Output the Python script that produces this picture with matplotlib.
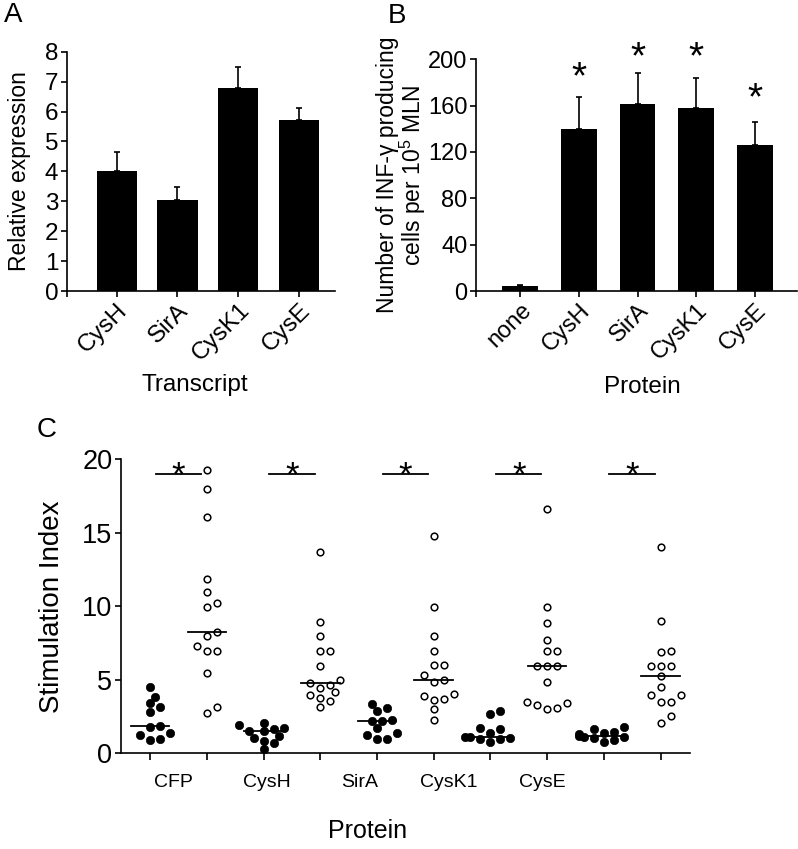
import numpy as np
import matplotlib
matplotlib.use("Agg")
import matplotlib.pyplot as plt
import matplotlib.transforms as mtransforms

plt.rcParams['font.family'] = ['Liberation Sans', 'DejaVu Sans']
plt.rcParams['mathtext.fontset'] = 'custom'
plt.rcParams['mathtext.rm'] = 'Liberation Sans'
plt.rcParams['mathtext.it'] = 'Liberation Sans'

# panel A: relative expression of transcripts
transcripts = ["CysH", "SirA", "CysK1", "CysE"]
expr_mean = [4.02, 3.04, 6.78, 5.70]
expr_err = [0.64, 0.45, 0.72, 0.43]

# panel B: INF-gamma producing cells
proteins_b = ["none", "CysH", "SirA", "CysK1", "CysE"]
ifn_mean = [4, 139.5, 161, 158, 126]
ifn_err = [1.5, 28, 27.5, 25.5, 19.5]
star_b_y = [None, 194, 211, 211, 176]

# panel C: stimulation index, filled = control, open = immunised
proteins_c = ["CFP", "CysH", "SirA", "CysK1", "CysE"]
si_filled = [
    [4.5, 3.85, 3.4, 3.15, 2.8, 1.85, 1.8, 1.35, 1.25, 0.95, 0.9],
    [2.05, 1.9, 1.75, 1.65, 1.55, 1.5, 1.15, 1.05, 0.85, 0.7, 0.3],
    [3.35, 3.05, 2.85, 2.25, 2.2, 2.2, 1.7, 1.4, 1.25, 1.0, 0.95],
    [2.9, 2.7, 1.7, 1.65, 1.4, 1.1, 1.1, 1.05, 1.0, 0.95, 0.8],
    [1.8, 1.65, 1.45, 1.4, 1.3, 1.15, 1.1, 1.1, 1.05, 0.9, 0.8],
]
si_open = [
    [19.27, 17.98, 16.1, 11.86, 10.97, 10.2, 9.97, 8.23, 7.98, 7.3, 6.98, 6.98, 5.44, 3.13, 2.72],
    [13.67, 8.95, 7.98, 6.98, 6.98, 5.96, 4.99, 4.8, 4.67, 4.42, 4.15, 3.99, 3.78, 3.58, 3.13],
    [14.78, 9.97, 7.98, 6.98, 6.0, 6.0, 5.33, 4.99, 4.87, 4.01, 3.9, 3.69, 3.63, 2.99, 2.27],
    [16.6, 9.97, 8.88, 7.71, 6.98, 6.98, 5.96, 5.96, 5.96, 4.87, 3.51, 3.4, 3.29, 3.06, 2.99],
    [14.06, 8.98, 6.98, 6.87, 5.96, 5.96, 5.96, 5.26, 4.49, 3.97, 3.97, 3.47, 3.47, 2.54, 2.08],
]
sig_y = 19.0
c_label_x = [1.41, 3.06, 4.70, 6.27, 7.91]

W, H = 798, 849
fig = plt.figure(figsize=(W / 100, H / 100), dpi=100)


def style(ax, fs):
    for s in ['top', 'right']:
        ax.spines[s].set_visible(False)
    for s in ['left', 'bottom']:
        ax.spines[s].set_linewidth(1.2)
    ax.tick_params(direction='out', length=4, width=1.2, labelsize=fs, pad=2)


def star(ax, x, y, size):
    ax.annotate('*', (x, y), xytext=(0, -0.57 * size), textcoords='offset points',
                ha='center', va='baseline', fontsize=size, annotation_clip=False)


# ---- A ----
ax_a = fig.add_axes([66.7 / W, 1 - 291 / H, (335 - 66.7) / W, (291 - 51.7) / H])
xa = np.arange(1, len(transcripts) + 1)
ax_a.bar(xa, expr_mean, width=0.66, color='black')
ax_a.errorbar(xa, expr_mean, yerr=[np.zeros(len(xa)), expr_err], fmt='none',
              ecolor='black', elinewidth=1.2, capsize=2.5, capthick=1.2)
ax_a.set_xlim(0.18, 4.59)
ax_a.set_ylim(0, 8)
ax_a.set_yticks(range(0, 9))
ax_a.set_xticks([0.18, *xa])
ax_a.set_xticklabels([''] + transcripts, rotation=45, ha='right', rotation_mode='anchor')
style(ax_a, 17.5)
ax_a.set_ylabel('Relative expression', fontsize=16.5, labelpad=10)
fig.text(195 / W, 1 - 385 / H, 'Transcript', fontsize=17.5, ha='center', va='center')
fig.text(13.5 / W, 1 - 15 / H, 'A', fontsize=20, ha='center', va='center')

# ---- B ----
ax_b = fig.add_axes([476 / W, 1 - 291 / H, (796.7 - 476) / W, (291 - 59.3) / H])
xb = np.arange(1, len(proteins_b) + 1)
ax_b.bar(xb, ifn_mean, width=0.61, color='black')
ax_b.errorbar(xb, ifn_mean, yerr=[np.zeros(len(xb)), ifn_err], fmt='none',
              ecolor='black', elinewidth=1.2, capsize=2.5, capthick=1.2)
for x, sy in zip(xb, star_b_y):
    if sy is not None:
        star(ax_b, x, sy, 28)
ax_b.set_xlim(0.25, 5.71)
ax_b.set_ylim(0, 200)
ax_b.set_yticks(range(0, 201, 40))
ax_b.set_xticks([0.25, *xb])
ax_b.set_xticklabels([''] + proteins_b, rotation=45, ha='right', rotation_mode='anchor')
style(ax_b, 17)
ax_b.set_ylabel('Number of INF-γ producing\ncells per 10$^{5}$ MLN', fontsize=16.5,
                labelpad=0, linespacing=0.95)
fig.text(642 / W, 1 - 386.7 / H, 'Protein', fontsize=17.5, ha='center', va='center')
fig.text(397 / W, 1 - 16 / H, 'B', fontsize=20, ha='center', va='center')

# ---- C ----
ax_c = fig.add_axes([120.7 / W, 1 - 753.3 / H, (690 - 120.7) / W, (753.3 - 459.3) / H])
ax_c.set_xlim(0.48, 10.52)
ax_c.set_ylim(0, 20)
px_x = (690 - 120.7) / (10.52 - 0.48)
px_y = (753.3 - 459.3) / 20.0


def swarm(vals, d=9.0, step=5.0):
    vals = np.asarray(vals, dtype=float)
    offs = np.zeros(len(vals))
    placed = []
    for i in np.argsort(vals):
        y = vals[i] * px_y
        for k in [0, 1, -1, 2, -2, 3, -3, 4, -4, 5, -5]:
            xo = k * step
            if all((xo - px) ** 2 + (y - py) ** 2 >= d ** 2 for px, py in placed):
                break
        placed.append((xo, y))
        offs[i] = xo / px_x
    return offs


for g in range(len(proteins_c)):
    xf = 2 * g + 1
    xo = 2 * g + 2
    vf = np.array(si_filled[g])
    vo = np.array(si_open[g])
    ax_c.plot(xf + swarm(vf, d=8.0), vf, 'o', ms=6.0, mfc='black', mec='black', mew=0.5,
              clip_on=False, zorder=3)
    ax_c.plot(xo + swarm(vo), vo, 'o', ms=4.8, mfc='white', mec='black', mew=1.1,
              clip_on=False, zorder=3)
    for x, v in [(xf, vf), (xo, vo)]:
        m = np.median(v)
        ax_c.plot([x - 0.34, x + 0.34], [m, m], color='black', lw=1.3, zorder=4)
    ax_c.plot([xf + 0.1, xf + 0.9], [sig_y, sig_y], color='black', lw=1.3, clip_on=False)
    star(ax_c, xf + 0.5, sig_y + 0.55, 25)

ax_c.set_xticks(range(1, 11))
ax_c.set_xticklabels([])
ax_c.set_yticks(range(0, 21, 5))
style(ax_c, 19.5)
ax_c.tick_params(axis='x', length=5)
ax_c.set_ylabel('Stimulation Index', fontsize=20, labelpad=12)
trans = mtransforms.blended_transform_factory(ax_c.transData, ax_c.transAxes)
for x, lab in zip(c_label_x, proteins_c):
    ax_c.text(x, -0.101, lab, transform=trans, fontsize=14, ha='center', va='center')
fig.text(368 / W, 1 - 831 / H, 'Protein', fontsize=18, ha='center', va='center')
fig.text(46.7 / W, 1 - 430 / H, 'C', fontsize=20, ha='center', va='center')

fig.savefig('out.png', dpi=100)
